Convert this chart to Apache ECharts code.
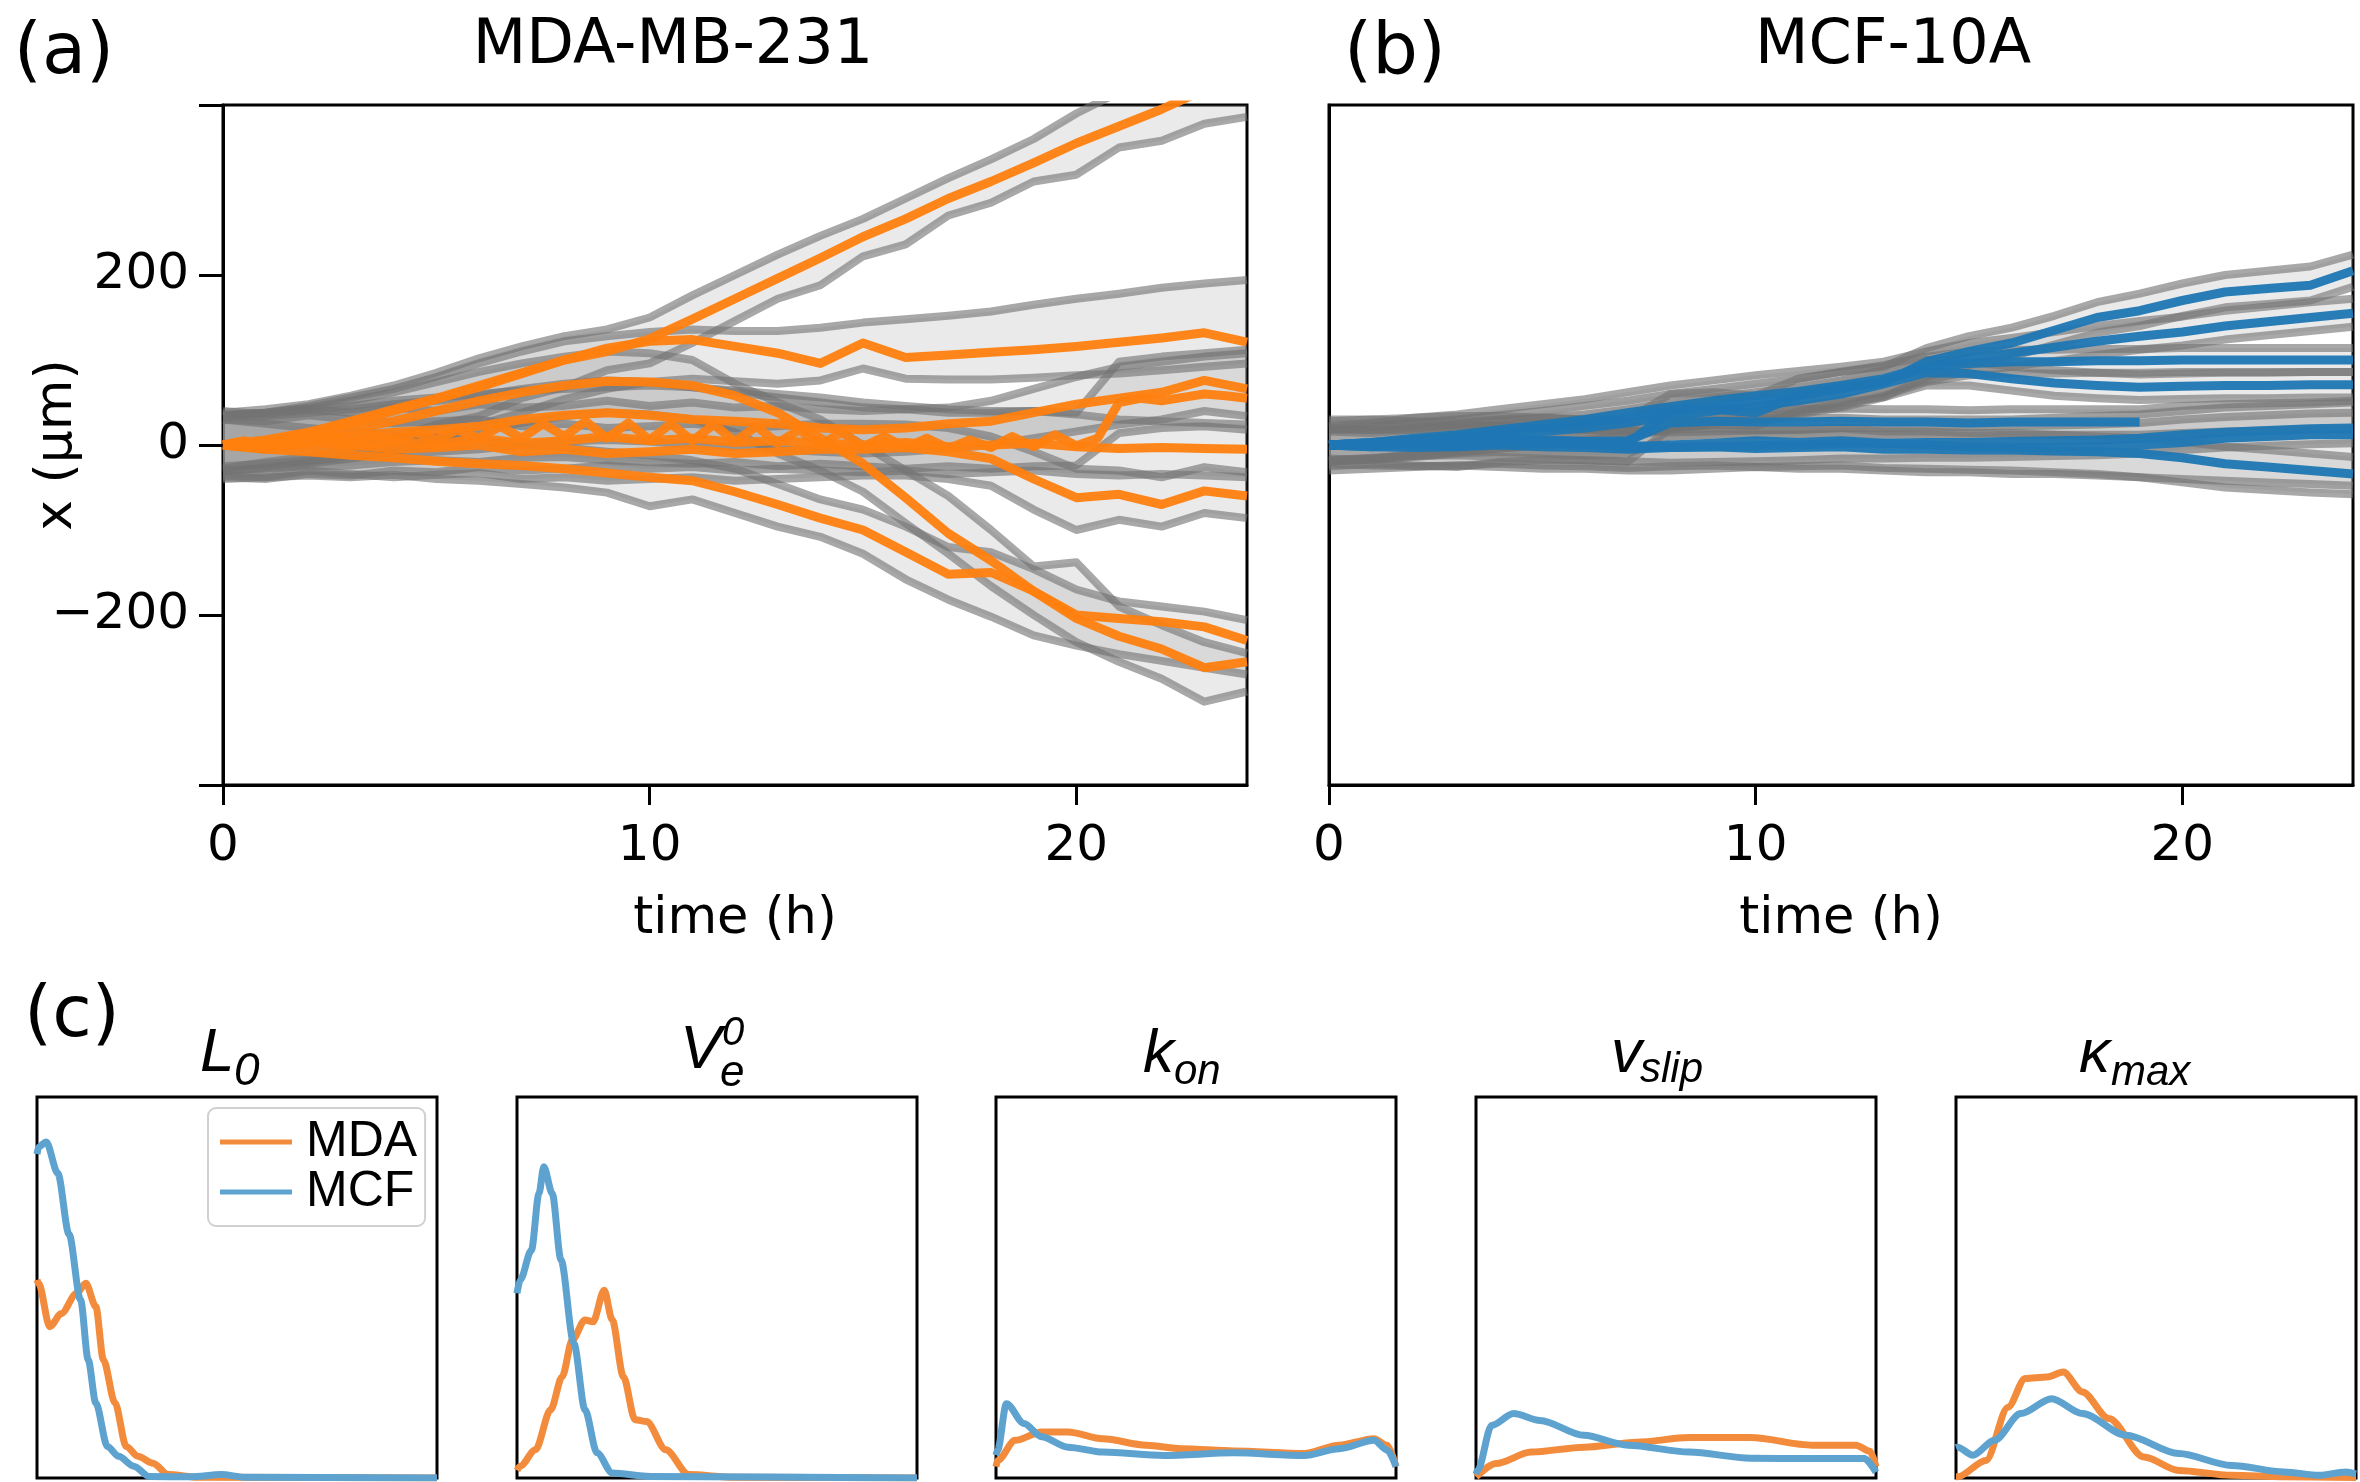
<!DOCTYPE html>
<html><head><meta charset="utf-8">
<script src="https://cdn.jsdelivr.net/npm/echarts@6/dist/echarts.min.js"></script>
<style>html,body{margin:0;padding:0;background:#fff}#c{width:2360px;height:1482px}</style>
</head><body><div id="c"></div>
<script>
// ---------- time grids ----------
const T = [0,1,2,3,4,5,6,7,8,9,10,11,12,13,14,15,16,17,18,19,20,21,22,23,24];
const T_HALF = [0,0.5,1,1.5,2,2.5,3,3.5,4,4.5,5,5.5,6,6.5,7,7.5,8,8.5,9,9.5,10,10.5,11,11.5,12,12.5,13,13.5,14,14.5,15,15.5,16,16.5,17,17.5,18,18.5,19,19.5,20,20.5,21,21.5,22,22.5,23,23.5,24];
const xTicks = [0,10,20];
const yTicks = [-400,-200,0,200,400];
const yLabels = [-200,0,200];

// ---------- panel (a): MDA-MB-231 trajectories (x in µm) ----------
const mda1 = [0,6,15,28,42,55,70,85,100,110,125,148,172,196,220,245,266,290,310,332,355,375,395,418,440];
const mda1Lo = [-28,-20,-14,-2,8,24,34,55,68,88,96,120,146,172,188,222,236,270,285,310,318,350,358,378,386];
const mda1Hi = [38,42,48,58,70,85,102,116,128,136,150,176,200,224,246,266,290,314,336,360,390,415,440,460,480];

const mda2 = [0,4,14,26,40,54,68,84,100,114,122,124,116,108,96,120,103,106,109,112,116,121,126,132,121];
const mda2Lo = [-32,-26,-20,-12,-2,10,24,38,54,66,74,78,75,72,76,90,78,77,77,79,82,84,88,92,96];
const mda2Hi = [34,38,46,56,66,80,96,110,122,128,133,136,134,134,138,144,148,152,157,165,172,178,185,190,194];

const mda3 = [0,4,10,18,28,40,52,62,70,75,74,70,58,38,8,-22,-62,-104,-136,-172,-204,-225,-240,-262,-255];
const mda3Lo = [-30,-28,-22,-16,-8,4,16,26,34,38,36,30,15,-10,-30,-55,-92,-128,-166,-200,-232,-255,-275,-302,-290];
const mda3Hi = [35,38,44,52,62,74,86,96,104,110,108,100,72,50,30,0,-30,-60,-100,-143,-138,-190,-212,-232,-245];

const mda4 = [0,-5,-8,-12,-15,-19,-22,-24,-28,-33,-38,-42,-55,-70,-86,-100,-126,-152,-150,-172,-200,-204,-208,-214,-230];
const mda4Lo = [-40,-38,-36,-38,-35,-40,-42,-46,-50,-56,-72,-64,-80,-96,-108,-128,-158,-182,-202,-224,-236,-246,-254,-262,-270];
const mda4Hi = [30,25,20,16,12,8,5,0,-3,-8,-12,-18,-28,-46,-64,-76,-96,-120,-126,-146,-170,-184,-190,-196,-206];

const mda5 = [0,-3,4,0,-5,-3,0,-8,-5,-10,-8,-5,-10,-8,-5,-5,-3,-8,-16,-40,-62,-58,-70,-54,-60];
const mda5Lo = [-36,-38,-30,-34,-38,-35,-33,-40,-38,-42,-40,-38,-42,-40,-38,-36,-36,-40,-48,-76,-100,-88,-96,-80,-86];
const mda5Hi = [30,28,35,30,26,28,30,22,25,20,22,25,20,22,25,25,24,20,10,-8,-28,-30,-38,-26,-32];

// sampled every half hour
const mda6 = [0,5,-2,8,0,10,3,12,5,15,6,18,8,22,8,25,10,28,8,26,6,25,5,24,4,22,2,18,0,15,-2,10,-3,8,-4,6,-3,10,-2,12,-1,8,50,55,52,56,60,58,55];
const mda6Lo = [-30,-28,-25,-24,-20,-18,-20,-15,-14,-18,-20,-22,-20,-25,-22,-25,-28,-25,-28,-25,-24,14,20,22,18];
const mda6Hi = [35,38,42,46,52,56,60,64,66,68,70,68,64,60,56,50,46,42,40,40,38,98,104,108,112];

const mda7 = [0,3,8,10,15,18,22,30,35,38,35,30,28,25,20,18,20,25,28,38,48,55,62,76,66];
const mda7Lo = [-25,-22,-18,-15,-10,-8,-5,0,4,6,4,0,-2,-5,-8,-10,-8,-4,0,8,16,24,30,40,34];
const mda7Hi = [32,34,38,42,48,52,58,66,72,76,74,68,62,56,50,44,42,44,52,66,80,92,98,104,108];

const mda8 = [0,-5,3,-2,5,0,8,2,5,10,5,8,3,5,2,0,3,-2,0,2,-2,-4,-3,-4,-5];
const mda8Lo = [-38,-40,-34,-36,-30,-32,-26,-30,-28,-24,-28,-26,-30,-28,-30,-32,-30,-34,-32,-30,-34,-36,-34,-36,-38];
const mda8Hi = [40,36,42,38,44,40,48,44,46,52,46,50,44,46,42,40,42,38,38,40,36,30,28,26,24];

// ---------- panel (b): MCF-10A trajectories ----------
const mcf1 = [0,2,0,-2,3,5,4,2,40,42,38,58,68,73,98,110,120,135,150,158,170,180,184,188,205];
const mcf1Lo = [-25,-22,-24,-26,-20,-18,-18,-20,20,24,22,40,50,56,80,94,104,118,132,140,152,162,166,170,186];
const mcf1Hi = [30,30,28,26,30,32,30,30,60,62,58,78,86,92,114,128,138,152,168,178,190,200,205,210,224];

const mcf2 = [0,3,8,12,18,24,30,38,45,52,58,63,70,78,92,102,108,115,122,128,133,140,145,150,155];
const mcf2Lo = [-20,-16,-10,-6,0,6,12,20,27,34,40,46,53,62,76,86,92,99,106,112,117,124,129,134,139];
const mcf2Hi = [22,26,32,36,42,48,54,62,70,76,82,87,92,98,110,120,126,133,140,146,151,158,163,168,172];

const mcf3 = [0,2,6,10,15,20,26,32,40,46,52,58,66,76,90,96,98,98,99,99,100,100,100,100,100];
const mcf3Lo = [-20,-17,-13,-9,-4,0,6,12,20,26,32,38,46,58,74,82,84,84,85,85,86,86,86,86,86];
const mcf3Hi = [20,22,26,30,35,40,46,52,60,66,72,78,86,94,104,110,112,112,113,113,114,114,114,114,114];

const mcf4 = [0,1,4,8,12,16,20,26,34,40,46,52,60,72,85,84,78,73,70,68,69,70,70,71,71];
const mcf4Lo = [-18,-16,-12,-8,-4,0,4,10,18,24,30,36,44,56,70,70,64,58,55,53,54,55,55,56,56];
const mcf4Hi = [18,18,20,24,28,32,36,42,50,56,62,68,76,88,100,98,92,88,85,83,84,85,85,86,86];

const mcf5 = [0,-2,2,5,8,6,4,5,26,28,27,27,28,27,27,26,27,27,27,27,null,null,null,null,null];
const mcf5Lo = [-16,-18,-14,-10,-8,-10,-12,-10,10,12,12,12,13,12,12,11,12,12,12,12,14,16,17,18,18];
const mcf5Hi = [16,14,18,22,24,22,20,22,42,44,42,42,43,42,42,41,42,42,42,42,46,48,49,50,52];

const mcf6 = [0,2,5,8,6,3,2,-2,0,2,5,3,5,2,0,-2,-3,-3,-2,0,3,8,10,12,12];
const mcf6Lo = [-30,-28,-26,-24,-26,-28,-28,-30,-30,-28,-26,-28,-28,-30,-32,-32,-34,-34,-36,-38,-40,-42,-44,-46,-48];
const mcf6Hi = [28,30,32,34,34,32,30,28,30,30,32,32,32,30,30,30,30,32,34,36,40,44,46,48,50];

const mcf7 = [0,-2,-3,-2,0,-2,-3,-5,-3,-2,-4,-3,-2,-5,-5,-6,-6,-7,-8,-10,-15,-22,-26,-30,-34];
const mcf7Lo = [-22,-24,-25,-24,-22,-24,-25,-27,-25,-24,-26,-25,-24,-27,-28,-29,-30,-32,-34,-38,-44,-50,-53,-56,-58];
const mcf7Hi = [20,18,18,20,22,20,18,16,18,20,18,18,20,16,16,14,14,12,10,8,4,-2,-6,-10,-14];

const mcf8 = [0,3,5,6,4,2,0,-1,-3,-2,-1,0,2,2,3,3,4,5,6,8,12,15,17,19,20];
const mcf8Lo = [-18,-15,-13,-12,-14,-16,-18,-19,-21,-20,-19,-18,-16,-16,-15,-15,-14,-13,-12,-10,-6,-3,-1,1,2];
const mcf8Hi = [18,21,23,24,22,20,18,17,15,16,17,18,20,20,21,21,22,23,24,26,30,33,35,37,38];

// ---------- panel (c): parameter distributions (normalised) ----------
const l0X_mda = [0,0.004,0.032,0.061,0.099,0.122,0.147,0.166,0.195,0.223,0.252,0.29,0.328,0.405,1];
const l0Y_mda = [0.52,0.511,0.397,0.432,0.485,0.511,0.45,0.31,0.197,0.083,0.057,0.039,0.009,0.002,0];
const l0X_mcf = [0,0.004,0.023,0.052,0.08,0.109,0.128,0.147,0.176,0.204,0.242,0.28,0.385,0.46,0.52,1];
const l0Y_mcf = [0.85,0.869,0.882,0.8,0.64,0.467,0.31,0.197,0.083,0.057,0.031,0.004,0.003,0.009,0.002,0];

const veX_mda = [0,0.008,0.046,0.084,0.113,0.138,0.17,0.19,0.218,0.238,0.266,0.295,0.324,0.372,0.429,0.544,1];
const veY_mda = [0.02,0.031,0.074,0.179,0.266,0.362,0.415,0.41,0.493,0.415,0.266,0.153,0.148,0.074,0.009,0.002,0];
const veX_mcf = [0,0.008,0.036,0.055,0.067,0.088,0.11,0.142,0.17,0.2,0.238,0.333,1];
const veY_mcf = [0.485,0.52,0.598,0.747,0.817,0.747,0.572,0.354,0.179,0.066,0.013,0.004,0];

const konX_mda = [0,0.004,0.048,0.114,0.18,0.267,0.376,0.464,0.595,0.77,0.858,0.945,0.978,1];
const konY_mda = [0.03,0.046,0.099,0.121,0.121,0.103,0.086,0.077,0.071,0.064,0.086,0.103,0.086,0.03];
const konX_mcf = [0,0.004,0.026,0.07,0.114,0.18,0.267,0.42,0.595,0.77,0.858,0.945,0.978,1];
const konY_mcf = [0.06,0.073,0.195,0.143,0.108,0.081,0.068,0.059,0.066,0.059,0.077,0.099,0.073,0.03];

const vsX_mda = [0,0.05,0.138,0.27,0.402,0.533,0.686,0.84,0.95,0.985,1];
const vsY_mda = [0.003,0.038,0.068,0.081,0.094,0.106,0.106,0.086,0.086,0.07,0.03];
const vsX_mcf = [0,0.004,0.039,0.094,0.16,0.27,0.38,0.533,0.686,0.84,0.971,1];
const vsY_mcf = [0.01,0.02,0.138,0.169,0.151,0.112,0.086,0.068,0.052,0.051,0.051,0.015];

const kmX_mda = [0,0.004,0.075,0.13,0.173,0.228,0.268,0.316,0.382,0.47,0.557,0.689,0.82,1];
const kmY_mda = [0.003,0.003,0.046,0.186,0.261,0.265,0.278,0.226,0.156,0.055,0.02,0.007,0.003,0.001];
const kmX_mcf = [0,0.004,0.042,0.096,0.162,0.239,0.316,0.425,0.557,0.689,0.82,0.908,0.974,1];
const kmY_mcf = [0.08,0.081,0.06,0.099,0.169,0.208,0.169,0.112,0.064,0.033,0.016,0.007,0.016,0.011];

// ---------- styles ----------
const ORANGE = '#ff7f0e', BLUE = '#1f77b4';
const C_MDA = '#f28b3b', C_MCF = '#5ea3cf';
const GRAY_LINE = 'rgba(115,115,115,0.62)';
const FILL = 'rgba(150,150,150,0.2)';
const DV = 'DejaVu Sans', LS = 'Liberation Sans';

function pairs(xs, ys) {
  const out = [];
  for (let i = 0; i < xs.length; i++) if (ys[i] !== null) out.push([xs[i], ys[i]]);
  return out;
}
function band(gi, lo, hi) {
  return [
    { type: 'custom', xAxisIndex: gi, yAxisIndex: gi, clip: true, silent: true, z: 1,
      data: [[0, 0]],
      renderItem: function (params, api) {
        const pts = [];
        for (let i = 0; i < T.length; i++) pts.push(api.coord([T[i], lo[i]]));
        for (let i = T.length - 1; i >= 0; i--) pts.push(api.coord([T[i], hi[i]]));
        return { type: 'polygon', shape: { points: pts }, style: { fill: FILL } };
      } },
    { type: 'line', xAxisIndex: gi, yAxisIndex: gi, data: pairs(T, lo), symbol: 'none', silent: true, z: 2,
      lineStyle: { color: GRAY_LINE, width: 8, join: 'round' } },
    { type: 'line', xAxisIndex: gi, yAxisIndex: gi, data: pairs(T, hi), symbol: 'none', silent: true, z: 2,
      lineStyle: { color: GRAY_LINE, width: 8, join: 'round' } }
  ];
}
function traj(gi, xs, ys, color) {
  return { type: 'line', xAxisIndex: gi, yAxisIndex: gi, data: pairs(xs, ys), symbol: 'none', silent: true, z: 3,
    lineStyle: { color: color, width: 9, opacity: 0.95, join: 'round' } };
}
function dist(gi, name, xs, ys, color) {
  return { type: 'line', name: name, xAxisIndex: gi, yAxisIndex: gi, data: pairs(xs, ys), symbol: 'none',
    smooth: 0.3, smoothMonotone: 'x', silent: true, z: 3,
    lineStyle: { color: color, width: 7 }, itemStyle: { color: color } };
}

const series = [];
const mdaCells = [[mda1Lo, mda1Hi], [mda2Lo, mda2Hi], [mda3Lo, mda3Hi], [mda4Lo, mda4Hi], [mda5Lo, mda5Hi], [mda6Lo, mda6Hi], [mda7Lo, mda7Hi], [mda8Lo, mda8Hi]];
mdaCells.forEach(c => series.push(...band(0, c[0], c[1])));
[[T, mda1], [T, mda2], [T, mda3], [T, mda4], [T, mda5], [T_HALF, mda6], [T, mda7], [T, mda8]]
  .forEach(c => series.push(traj(0, c[0], c[1], ORANGE)));

const mcfCells = [[mcf1Lo, mcf1Hi], [mcf2Lo, mcf2Hi], [mcf3Lo, mcf3Hi], [mcf4Lo, mcf4Hi], [mcf5Lo, mcf5Hi], [mcf6Lo, mcf6Hi], [mcf7Lo, mcf7Hi], [mcf8Lo, mcf8Hi]];
mcfCells.forEach(c => series.push(...band(1, c[0], c[1])));
[mcf1, mcf2, mcf3, mcf4, mcf5, mcf6, mcf7, mcf8].forEach(m => series.push(traj(1, T, m, BLUE)));

series.push(dist(2, 'MDA', l0X_mda, l0Y_mda, C_MDA), dist(2, 'MCF', l0X_mcf, l0Y_mcf, C_MCF));
series.push(dist(3, 'MDA', veX_mda, veY_mda, C_MDA), dist(3, 'MCF', veX_mcf, veY_mcf, C_MCF));
series.push(dist(4, 'MDA', konX_mda, konY_mda, C_MDA), dist(4, 'MCF', konX_mcf, konY_mcf, C_MCF));
series.push(dist(5, 'MDA', vsX_mda, vsY_mda, C_MDA), dist(5, 'MCF', vsX_mcf, vsY_mcf, C_MCF));
series.push(dist(6, 'MDA', kmX_mda, kmY_mda, C_MDA), dist(6, 'MCF', kmX_mcf, kmY_mcf, C_MCF));

// ---------- layout ----------
const gridBase = { show: true, borderColor: '#000', borderWidth: 3, backgroundColor: 'transparent', containLabel: false, outerBoundsMode: 'none' };
const grids = [
  Object.assign({ left: 223, top: 105, width: 1024, height: 680 }, gridBase),
  Object.assign({ left: 1329, top: 105, width: 1024, height: 680 }, gridBase)
];
[37, 517, 996, 1476, 1956].forEach(l => grids.push(Object.assign({ left: l, top: 1097, width: 400, height: 381 }, gridBase)));

function fmtY(v) { return v < 0 ? '\u2212' + (-v) : String(v); }
const xAxes = [], yAxes = [];
[0, 1].forEach(gi => {
  xAxes.push({ gridIndex: gi, type: 'value', min: 0, max: 24, interval: 10,
    axisLine: { show: true, onZero: false, lineStyle: { color: '#000', width: 3 } },
    axisTick: { show: true, length: 20, customValues: xTicks, lineStyle: { color: '#000', width: 3 } },
    axisLabel: { show: true, customValues: xTicks, fontSize: 50, fontFamily: DV, color: '#000', margin: 37 },
    splitLine: { show: false },
    name: 'time (h)', nameLocation: 'middle', nameGap: 109, nameMoveOverlap: false,
    nameTextStyle: { fontSize: 51, fontFamily: DV, color: '#000' } });
  const y = { gridIndex: gi, type: 'value', min: -400, max: 400, interval: 200,
    axisLine: { show: true, onZero: false, lineStyle: { color: '#000', width: 3 } },
    splitLine: { show: false } };
  if (gi === 0) {
    y.axisTick = { show: true, length: 24, customValues: yTicks, lineStyle: { color: '#000', width: 3 } };
    y.axisLabel = { show: true, customValues: yLabels, fontSize: 50, fontFamily: DV, color: '#000', margin: 34,
      formatter: v => (Math.abs(v) === 400 ? '' : fmtY(v)) };
    y.name = 'x (\u03bcm)'; y.nameLocation = 'middle'; y.nameGap = 140; y.nameRotate = 90; y.nameMoveOverlap = false;
    y.nameTextStyle = { fontSize: 52, fontFamily: DV, color: '#000' };
  } else {
    y.axisTick = { show: false }; y.axisLabel = { show: false };
  }
  yAxes.push(y);
});
for (let gi = 2; gi <= 6; gi++) {
  xAxes.push({ gridIndex: gi, type: 'value', min: 0, max: 1, show: false, splitLine: { show: false } });
  yAxes.push({ gridIndex: gi, type: 'value', min: 0, max: 1, show: false, splitLine: { show: false } });
}

function txt(x, y, text, size, family, opts) {
  opts = opts || {};
  const align = opts.align || 'center';
  return { type: 'text', x: x, y: y, silent: true, z: 10,
    style: { text: text, fontSize: size, fontFamily: family, fontStyle: opts.italic ? 'italic' : 'normal',
      fill: '#000', align: align, textAlign: align, verticalAlign: 'middle', textVerticalAlign: 'middle' } };
}
const graphics = [
  txt(64, 54, '(a)', 72, DV), txt(673, 47, 'MDA-MB-231', 62, DV),
  txt(1395, 54, '(b)', 72, DV), txt(1893, 47, 'MCF-10A', 62, DV),
  txt(72, 1017, '(c)', 72, DV),
  // L_0
  txt(200, 1054, 'L', 62, LS, { italic: true, align: 'left' }), txt(234, 1072, '0', 46, LS, { italic: true, align: 'left' }),
  // V_e^0
  txt(680, 1051, 'V', 62, LS, { italic: true, align: 'left' }), txt(722, 1034, '0', 40, LS, { italic: true, align: 'left' }),
  txt(720, 1074, 'e', 44, LS, { italic: true, align: 'left' }),
  // k_on
  txt(1143, 1055, 'k', 62, LS, { italic: true, align: 'left' }), txt(1174, 1072, 'on', 42, LS, { italic: true, align: 'left' }),
  // v_slip
  txt(1611, 1055, 'v', 62, LS, { italic: true, align: 'left' }), txt(1640, 1070, 'slip', 42, LS, { italic: true, align: 'left' }),
  // kappa_max
  txt(2079, 1055, '\u03ba', 62, LS, { italic: true, align: 'left' }), txt(2111, 1073, 'max', 42, LS, { italic: true, align: 'left' })
];

const chart = echarts.init(document.getElementById('c'), null, { renderer: 'canvas', width: 2360, height: 1482 });
chart.setOption({
  animation: false,
  backgroundColor: '#fff',
  grid: grids, xAxis: xAxes, yAxis: yAxes,
  legend: { data: ['MDA', 'MCF'], orient: 'vertical', left: 208, top: 1108, padding: [9, 8, 9, 12], itemGap: 0,
    itemWidth: 72, itemHeight: 5, icon: 'rect', selectedMode: false,
    backgroundColor: 'rgba(255,255,255,0.85)', borderColor: '#d0d0d0', borderWidth: 2, borderRadius: 8,
    textStyle: { fontSize: 50, fontFamily: LS, color: '#000', lineHeight: 50, padding: [0, 0, 0, 9] } },
  graphic: graphics,
  series: series
});
</script></body></html>
